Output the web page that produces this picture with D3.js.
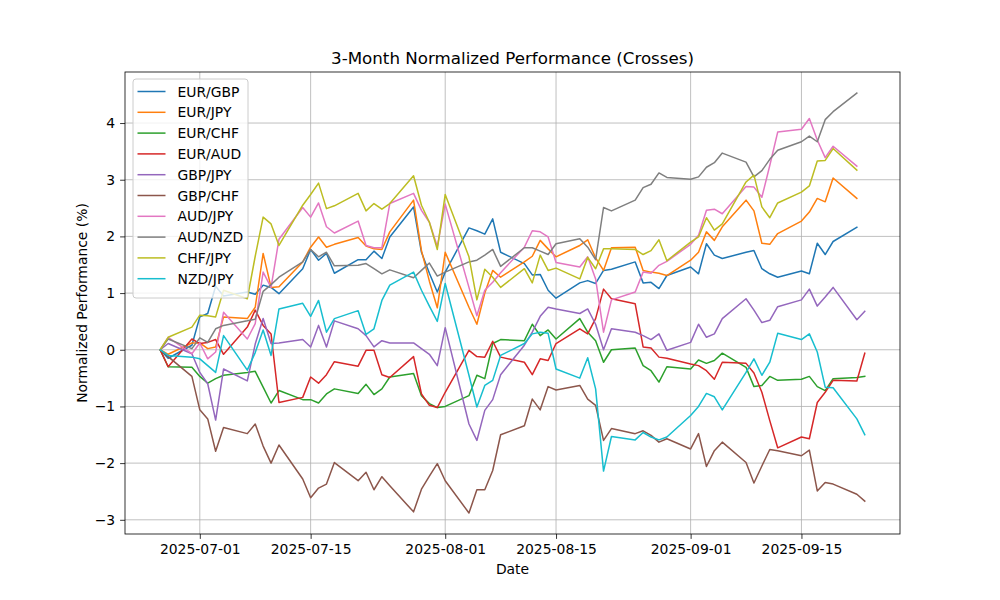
<!DOCTYPE html>
<html>
<head>
<meta charset="utf-8">
<script src="https://cdn.jsdelivr.net/npm/d3@7"></script>
<style>
  html, body { margin: 0; padding: 0; background: #ffffff; }
  svg { display: block; font-family: "DejaVu Sans", sans-serif; }
</style>
</head>
<body>
<svg id="chart" width="1000" height="600"></svg>
<script>
// ---------- data ----------
const dates = [
  "2025-06-26","2025-06-27","2025-06-30","2025-07-01","2025-07-02","2025-07-03","2025-07-04",
  "2025-07-07","2025-07-08","2025-07-09","2025-07-10","2025-07-11",
  "2025-07-14","2025-07-15","2025-07-16","2025-07-17","2025-07-18",
  "2025-07-21","2025-07-22","2025-07-23","2025-07-24","2025-07-25",
  "2025-07-28","2025-07-29","2025-07-30","2025-07-31","2025-08-01",
  "2025-08-04","2025-08-05","2025-08-06","2025-08-07","2025-08-08",
  "2025-08-11","2025-08-12","2025-08-13","2025-08-14","2025-08-15",
  "2025-08-18","2025-08-19","2025-08-20","2025-08-21","2025-08-22",
  "2025-08-25","2025-08-26","2025-08-27","2025-08-28","2025-08-29",
  "2025-09-01","2025-09-02","2025-09-03","2025-09-04","2025-09-05",
  "2025-09-08","2025-09-09","2025-09-10","2025-09-11","2025-09-12",
  "2025-09-15","2025-09-16","2025-09-17","2025-09-18","2025-09-19",
  "2025-09-22","2025-09-23"
];

const seriesNames = ["EUR/GBP","EUR/JPY","EUR/CHF","EUR/AUD","GBP/JPY","GBP/CHF","AUD/JPY","AUD/NZD","CHF/JPY","NZD/JPY"];

const eurGbp = [0,-0.15,0.08,0.58,0.64,1.12,0.95, 1.02,0.98,1.14,1.10,0.99, 1.43,1.77,1.58,1.70,1.35,
  1.59,1.59,1.74,1.61,1.99, 2.52,1.72,1.35,1.02,1.37, 2.15,2.10,2.04,2.31,1.72, 1.52,1.32,1.33,1.05,0.91,
  1.18,1.22,1.17,1.40,1.42, 1.55,1.18,1.19,1.08,1.31, 1.46,1.34,1.87,1.67,1.61, 1.72,1.75,1.43,1.34,1.28,
  1.39,1.34,1.88,1.68,1.91, 2.16,null];
const eurJpy = [0,-0.08,0.12,0.12,0.02,0.05,0.58, 0.55,0.75,1.70,1.10,1.11, 1.55,1.81,1.99,1.81,1.86,
  1.98,1.83,1.78,1.77,2.08, 2.64,1.75,1.21,0.74,1.72, 0.75,0.45,1.00,1.40,1.28, 1.55,1.65,1.93,1.78,1.64,
  1.84,1.94,1.62,1.40,1.80, 1.81,1.40,1.37,1.35,1.31, 1.58,1.72,2.08,1.93,2.17, 2.64,2.45,1.88,1.86,2.05,
  2.27,2.43,2.67,2.61,3.03, 2.67,null];
const eurChf = [0,-0.30,-0.31,-0.47,-0.59,-0.51,-0.45, -0.40,-0.38,-0.66,-0.94,-0.72, -0.88,-0.88,-0.94,-0.78,-0.69,
  -0.77,-0.61,-0.79,-0.69,-0.48, -0.42,-0.81,-0.95,-1.02,-1.00, -0.81,-0.45,-0.51,0.11,0.18, 0.16,0.45,0.25,0.35,0.19,
  0.55,0.31,0.16,-0.22,0.00, 0.03,-0.28,-0.37,-0.57,-0.30, -0.34,-0.18,-0.24,-0.19,-0.06, -0.31,-0.65,-0.63,-0.47,-0.54,
  -0.52,-0.47,-0.65,-0.72,-0.51, -0.49,-0.47];
const eurAud = [0,-0.30,0.19,0.11,0.13,0.18,-0.08, 0.40,0.70,0.43,0.28,-0.93, -0.84,-0.48,-0.59,-0.44,-0.21,
  -0.29,-0.01,-0.01,-0.44,-0.49, -0.12,-0.78,-0.98,-1.02,-0.75, -0.01,-0.12,-0.13,0.15,-0.13, -0.22,-0.44,-0.16,-0.19,0.11,
  0.37,0.28,0.55,1.07,0.90, 0.81,0.05,0.03,-0.13,-0.15, -0.25,-0.28,-0.37,-0.52,-0.22, -0.24,-0.41,-0.75,-1.25,-1.73,
  -1.54,-1.57,-0.93,-0.75,-0.54, -0.55,-0.06];
const gbpJpy = [0,0.11,-0.07,-0.40,-0.60,-1.24,-0.34, -0.55,0.10,0.55,0.11,0.12, 0.18,0.05,0.43,0.05,0.51,
  0.37,0.25,0.05,0.16,0.12, 0.12,0.02,-0.08,-0.28,0.39, -1.31,-1.60,-1.07,-0.88,-0.44, 0.08,0.31,0.59,0.75,0.72,
  0.64,0.72,0.45,0.00,0.37, 0.31,0.25,0.18,0.28,-0.01, 0.13,0.45,0.22,0.28,0.55, 0.90,0.70,0.48,0.52,0.76,
  0.88,1.07,0.77,0.93,1.10, 0.53,0.68];
const gbpChf = [0,-0.12,-0.47,-1.06,-1.22,-1.79,-1.37, -1.48,-1.31,-1.70,-2.00,-1.68, -2.28,-2.61,-2.44,-2.37,-1.99,
  -2.31,-2.16,-2.47,-2.24,-2.40, -2.86,-2.46,-2.23,-2.01,-2.31, -2.88,-2.47,-2.47,-2.13,-1.50, -1.34,-0.87,-1.06,-0.65,-0.71,
  -0.63,-0.87,-0.98,-1.60,-1.39, -1.48,-1.43,-1.51,-1.63,-1.57, -1.75,-1.48,-2.06,-1.78,-1.63, -1.99,-2.35,-2.05,-1.76,-1.78,
  -1.87,-1.77,-2.49,-2.34,-2.37, -2.55,-2.67];
const audJpy = [0,0.22,-0.07,0.12,-0.16,-0.04,0.66, 0.19,0.46,1.37,1.10,1.95, 2.51,2.34,2.59,2.17,2.06,
  2.27,1.84,1.80,1.80,2.58, 2.76,2.46,2.25,1.82,2.57, 1.10,0.60,1.05,1.19,1.36, 1.81,2.10,2.08,1.99,1.54,
  1.46,1.64,1.25,0.31,0.88, 1.02,1.37,1.35,1.49,1.56, 1.86,2.02,2.46,2.48,2.40, 2.88,2.87,2.69,3.25,3.84,
  3.89,4.08,3.70,3.39,3.59, 3.24,null];
const audNzd = [0,0.19,0.02,0.21,0.13,0.37,0.43, 0.51,0.54,1.03,1.15,1.28, 1.55,1.77,1.64,1.72,1.48,
  1.49,1.52,1.43,1.34,1.41, 1.27,1.40,1.53,1.30,1.37, 1.55,1.58,1.67,1.77,1.47, 1.80,1.80,1.74,1.68,1.87,
  1.96,1.81,1.59,2.51,2.45, 2.64,2.86,2.92,3.12,3.04, 3.01,3.05,3.22,3.30,3.47, 3.31,3.05,3.16,3.36,3.52,
  3.67,3.77,3.67,4.06,4.20, 4.53,null];
const chfJpy = [0,0.22,0.40,0.61,0.60,0.58,1.05, 0.90,1.65,2.34,2.22,1.84, 2.55,2.74,2.94,2.49,2.54,
  2.76,2.45,2.58,2.48,2.58, 3.07,2.55,2.25,1.77,2.74, 1.64,0.88,1.42,1.28,1.10, 1.43,1.18,1.67,1.40,1.44,
  1.25,1.63,1.43,1.78,1.78, 1.77,1.68,1.75,1.94,1.57, 1.90,1.99,2.33,2.11,2.22, 2.96,3.08,2.52,2.33,2.59,
  2.78,2.89,3.33,3.34,3.55, 3.17,null];
const nzdJpy = [0,-0.10,-0.13,-0.16,-0.28,-0.40,0.25, -0.36,-0.05,0.35,-0.10,0.72, 0.82,0.59,0.87,0.31,0.55,
  0.69,0.27,0.37,0.87,1.14, 1.37,1.05,0.77,0.50,1.17, -0.45,-1.01,-0.63,-0.54,-0.10, 0.11,0.28,0.31,0.29,-0.34,
  -0.50,-0.14,-0.69,-2.14,-1.53, -1.59,-1.46,-1.54,-1.59,-1.54, -1.16,-1.00,-0.77,-0.83,-1.06, -0.40,-0.16,-0.45,-0.22,0.29,
  0.18,0.28,-0.04,-0.66,-0.67, -1.22,-1.50];

const xTickDates = ["2025-07-01","2025-07-15","2025-08-01","2025-08-15","2025-09-01","2025-09-15"];
const yTickValues = [-3,-2,-1,0,1,2,3,4];
const colors = ["#1f77b4","#ff7f0e","#2ca02c","#d62728","#9467bd","#8c564b","#e377c2","#7f7f7f","#bcbd22","#17becf"];

const seriesValues = [eurGbp, eurJpy, eurChf, eurAud, gbpJpy, gbpChf, audJpy, audNzd, chfJpy, nzdJpy];

// ---------- layout ----------
const W = 1000, H = 600;
const mLeft = 125, mRight = 900, mTop = 72, mBottom = 534;
const parse = d3.utcParse("%Y-%m-%d");
const dateObjs = dates.map(parse);

const series = seriesNames.map((name, i) => ({
  name, color: colors[i],
  points: dateObjs.map((d, j) => ({ date: d, value: seriesValues[i][j] }))
}));

const xExt = d3.extent(dateObjs);
const xSpan = xExt[1] - xExt[0];
const x = d3.scaleUtc()
  .domain([new Date(+xExt[0] - 0.05 * xSpan), new Date(+xExt[1] + 0.05 * xSpan)])
  .range([mLeft, mRight]);

const allVals = seriesValues.flat().filter(v => v != null);
const yMin = d3.min(allVals), yMax = d3.max(allVals);
const ySpan = yMax - yMin;
const y = d3.scaleLinear()
  .domain([yMin - 0.05 * ySpan, yMax + 0.05 * ySpan])
  .range([mBottom, mTop]);

const svg = d3.select("#chart");
svg.append("rect").attr("width", W).attr("height", H).attr("fill", "#fff");

// grid
const xTicks = xTickDates.map(parse);
const grid = svg.append("g");
grid.selectAll("line.gx").data(xTicks).enter().append("line")
  .attr("x1", d => x(d)).attr("x2", d => x(d))
  .attr("y1", mTop).attr("y2", mBottom)
  .attr("stroke", "#b0b0b0").attr("stroke-width", 0.8);
grid.selectAll("line.gy").data(yTickValues).enter().append("line")
  .attr("x1", mLeft).attr("x2", mRight)
  .attr("y1", d => y(d)).attr("y2", d => y(d))
  .attr("stroke", "#b0b0b0").attr("stroke-width", 0.8);

// lines
const line = d3.line()
  .defined(d => d.value != null)
  .x(d => x(d.date)).y(d => y(d.value));
svg.append("clipPath").attr("id", "clip").append("rect")
  .attr("x", mLeft).attr("y", mTop).attr("width", mRight - mLeft).attr("height", mBottom - mTop);
svg.append("g").attr("clip-path", "url(#clip)")
  .selectAll("path").data(series).enter().append("path")
  .attr("d", d => line(d.points))
  .attr("fill", "none")
  .attr("stroke", d => d.color)
  .attr("stroke-width", 1.5)
  .attr("stroke-linejoin", "round")
  .attr("stroke-linecap", "square");

// axes
const fmt = d3.utcFormat("%Y-%m-%d");
const xAxis = d3.axisBottom(x).tickValues(xTicks).tickFormat(fmt).tickSizeInner(4.9).tickSizeOuter(0).tickPadding(4.9);
const yAxis = d3.axisLeft(y).tickValues(yTickValues).tickFormat(d => d < 0 ? "\u2212" + Math.abs(d) : String(d)).tickSizeInner(4.9).tickSizeOuter(0).tickPadding(4.9);

const gx = svg.append("g").attr("transform", `translate(0,${mBottom})`).call(xAxis);
const gy = svg.append("g").attr("transform", `translate(${mLeft},0)`).call(yAxis);
[gx, gy].forEach(g => {
  g.select(".domain").remove();
  g.selectAll(".tick line").attr("stroke", "#000").attr("stroke-width", 0.8);
  g.selectAll(".tick text").attr("fill", "#000").attr("font-size", "13.9px").attr("font-family", "DejaVu Sans");
});

// spines
svg.append("rect").attr("x", mLeft).attr("y", mTop).attr("width", mRight - mLeft).attr("height", mBottom - mTop)
  .attr("fill", "none").attr("stroke", "#000").attr("stroke-width", 0.8);

// title and labels
svg.append("text").attr("x", (mLeft + mRight) / 2).attr("y", 64).attr("text-anchor", "middle")
  .attr("font-size", "16.7px").attr("fill", "#000").text("3-Month Normalized Performance (Crosses)");
svg.append("text").attr("x", (mLeft + mRight) / 2).attr("y", 574).attr("text-anchor", "middle")
  .attr("font-size", "13.9px").attr("fill", "#000").text("Date");
svg.append("text").attr("transform", `translate(87,${(mTop + mBottom) / 2}) rotate(-90)`).attr("text-anchor", "middle")
  .attr("font-size", "13.9px").attr("fill", "#000").text("Normalized Performance (%)");

// legend
const lg = svg.append("g");
const rowH = 20.8, lgX = 133, lgY = 79;
lg.append("rect").attr("x", lgX).attr("y", lgY).attr("width", 115).attr("height", 219).attr("rx", 3)
  .attr("fill", "#fff").attr("fill-opacity", 0.8).attr("stroke", "#cccccc").attr("stroke-width", 1);
const items = lg.selectAll("g.item").data(series).enter().append("g")
  .attr("transform", (d, i) => `translate(0,${lgY + 12.5 + i * rowH})`);
items.append("line").attr("x1", 137.5).attr("x2", 165.5).attr("y1", 0).attr("y2", 0)
  .attr("stroke", d => d.color).attr("stroke-width", 1.5);
items.append("text").attr("x", 177.5).attr("y", 5).attr("font-size", "13.9px").attr("fill", "#000").text(d => d.name);
</script>
</body>
</html>
